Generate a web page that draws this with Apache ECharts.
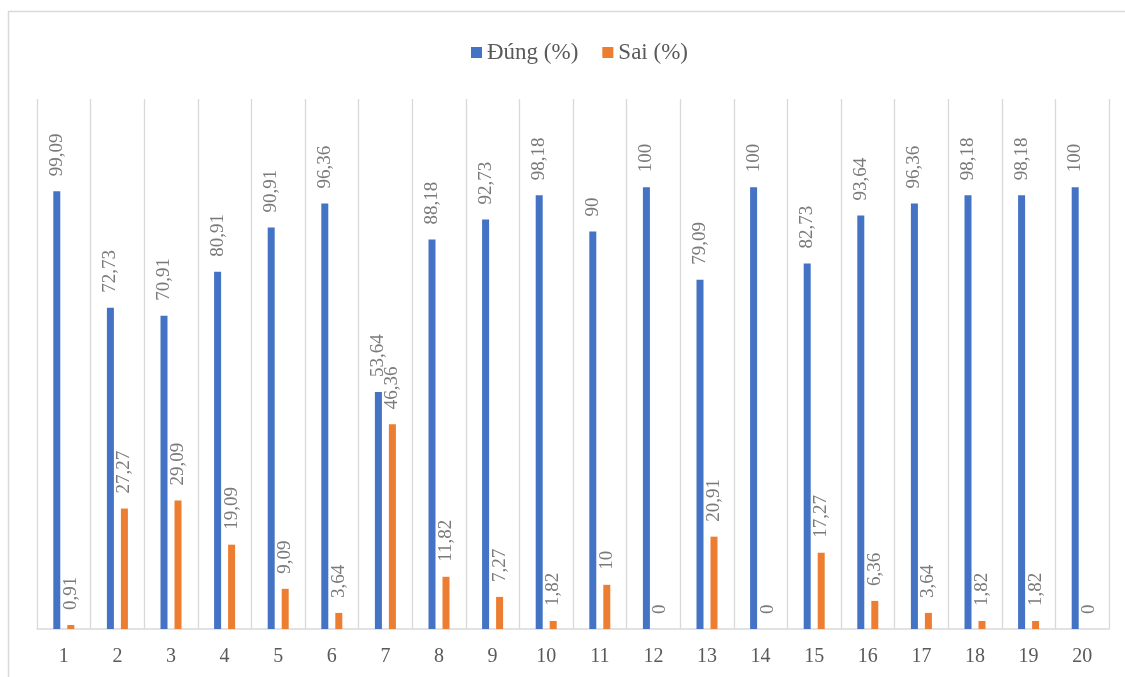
<!DOCTYPE html>
<html>
<head>
<meta charset="utf-8">
<script src="https://cdn.jsdelivr.net/npm/echarts@6/dist/echarts.min.js"></script>
<style>
  html, body { margin: 0; padding: 0; background: #ffffff; }
  #chart { width: 1125px; height: 677px; }
</style>
</head>
<body>
<div id="chart"></div>
<script>
// Question numbers and the share of correct / wrong answers (%)
const categories = ['1','2','3','4','5','6','7','8','9','10','11','12','13','14','15','16','17','18','19','20'];
const dungValues = [99.09, 72.73, 70.91, 80.91, 90.91, 96.36, 53.64, 88.18, 92.73, 98.18, 90, 100, 79.09, 100, 82.73, 93.64, 96.36, 98.18, 98.18, 100];
const saiValues  = [0.91, 27.27, 29.09, 19.09, 9.09, 3.64, 46.36, 11.82, 7.27, 1.82, 10, 0, 20.91, 0, 17.27, 6.36, 3.64, 1.82, 1.82, 0];
const seriesNames = ['Đúng (%)', 'Sai (%)'];

const FONT = '"Liberation Serif", "Times New Roman", serif';

// Decimal comma formatting, e.g. 99,09
function fmt(v) {
  return String(v).replace('.', ',');
}

const valueLabel = {
  show: true,
  position: 'top',
  rotate: 90,
  align: 'left',
  verticalAlign: 'middle',
  distance: 15,
  fontFamily: FONT,
  fontSize: 19,
  color: '#7a7a7a',
  formatter: p => fmt(p.value)
};

const chart = echarts.init(document.getElementById('chart'), null, { renderer: 'canvas' });

chart.setOption({
  backgroundColor: '#ffffff',
  animation: false,
  graphic: [{
    type: 'rect',
    shape: { x: 8.5, y: 11.5, width: 1300, height: 800 },
    style: { fill: 'none', stroke: '#d9d9d9', lineWidth: 1.5 },
    silent: true,
    z: -1
  }],
  legend: {
    top: 36,
    left: 466,
    itemWidth: 11,
    itemHeight: 11,
    itemGap: 24,
    icon: 'rect',
    textStyle: { fontFamily: FONT, fontSize: 23, color: '#595959' },
    data: seriesNames
  },
  grid: { left: 37, right: 16, top: 99, bottom: 48, containLabel: false },
  xAxis: {
    type: 'category',
    data: categories,
    axisLine: { lineStyle: { color: '#d9d9d9', width: 1.5 } },
    axisTick: { show: false },
    axisLabel: { fontFamily: FONT, fontSize: 20, color: '#595959', margin: 18 },
    splitLine: { show: true, lineStyle: { color: '#d9d9d9', width: 1.3 } }
  },
  yAxis: {
    type: 'value',
    min: 0,
    max: 120,
    show: false,
    splitLine: { show: false }
  },
  series: [
    {
      name: seriesNames[0],
      type: 'bar',
      data: dungValues,
      barWidth: 7,
      barGap: '100%',
      itemStyle: { color: '#4472C4' },
      label: valueLabel
    },
    {
      name: seriesNames[1],
      type: 'bar',
      data: saiValues,
      barWidth: 7,
      barGap: '100%',
      itemStyle: { color: '#ED7D31' },
      label: valueLabel
    }
  ]
});
</script>
</body>
</html>
